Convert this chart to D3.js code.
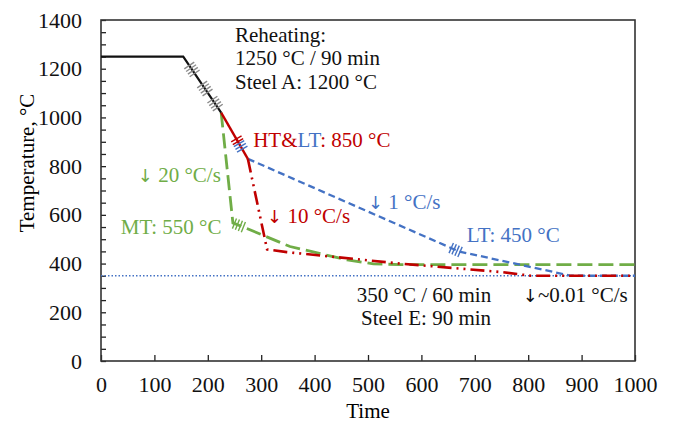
<!DOCTYPE html>
<html>
<head>
<meta charset="utf-8">
<script src="https://cdn.jsdelivr.net/npm/d3@7"></script>
<style>
  body { margin: 0; background: #fff; }
  text { font-family: "Liberation Serif", "Times New Roman", serif; }
</style>
</head>
<body>
<div id="chart"></div>
<script>

// temperature (°C) against time
var reheatPath = [[0, 1250], [154, 1250], [225, 1020]];
var htPath = [[225, 1020], [275, 830]];
var htCoolPath = [[275, 830], [311, 458], [348, 447], [560, 400], [750, 365], [805, 350], [1000, 350]];
var mtPath = [[225, 1020], [247, 567], [272, 545], [354, 470], [461, 415], [510, 399], [560, 396], [1000, 396]];
var ltPath = [[275, 830], [670, 450], [880, 350], [1000, 350]];
var holdTemp = 350;

var xTicks = [0, 100, 200, 300, 400, 500, 600, 700, 800, 900, 1000];
var yTicks = [0, 200, 400, 600, 800, 1000, 1200, 1400];

var RED = "#c00000", GREEN = "#70ad47", BLUE = "#4472c4";


TempVis = function (_parent) {
  this.parent = _parent;
  this.width = 675;
  this.height = 424;
  this.margin = { top: 20, right: 40, bottom: 63, left: 101 };

  this.initVis();
}

TempVis.prototype.initVis = function () {
  var that = this;

  this.svg = this.parent.append("svg")
      .attr("width", this.width)
      .attr("height", this.height)
      .style("background", "#fff");

  this.x = d3.scaleLinear().domain([0, 1000])
      .range([this.margin.left, this.width - this.margin.right]);
  this.y = d3.scaleLinear().domain([0, 1400])
      .range([this.height - this.margin.bottom, this.margin.top]);

  this.line = d3.line()
      .x(function (d) { return that.x(d[0]); })
      .y(function (d) { return that.y(d[1]); });

  this.drawAxes();
  this.updateVis();
  this.drawLabels();
}

TempVis.prototype.drawAxes = function () {
  var x = this.x, y = this.y;

  var xAxis = d3.axisBottom(x).tickValues(xTicks).tickSize(-6).tickPadding(15)
      .tickFormat(d3.format("d"));
  var yAxis = d3.axisLeft(y).tickValues(d3.range(0, 1401, 50)).tickSize(-5).tickPadding(19)
      .tickFormat(function (d) { return yTicks.indexOf(d) >= 0 ? d : ""; });

  var gx = this.svg.append("g")
      .attr("transform", "translate(0," + y(0) + ")")
      .call(xAxis);
  var gy = this.svg.append("g")
      .attr("transform", "translate(" + x(0) + ",0)")
      .call(yAxis);

  [gx, gy].forEach(function (g) {
    g.select(".domain").remove();
    g.selectAll(".tick line").attr("stroke", "#222").attr("stroke-width", 1.3);
    g.selectAll(".tick text")
      .attr("fill", "#111")
      .style("font-size", "22px")
      .style("font-family", "'Liberation Serif', serif");
  });

  // frame
  this.svg.append("rect")
      .attr("x", x(0)).attr("y", y(1400))
      .attr("width", x(1000) - x(0)).attr("height", y(0) - y(1400))
      .attr("fill", "none").attr("stroke", "#333").attr("stroke-width", 1.6);

  this.svg.append("text")
      .attr("x", (x(0) + x(1000)) / 2).attr("y", 418)
      .attr("text-anchor", "middle")
      .style("font-size", "21px")
      .text("Time");

  this.svg.append("text")
      .attr("transform", "translate(34,163) rotate(-90)")
      .attr("text-anchor", "middle")
      .style("font-size", "21px")
      .text("Temperature, °C");
}

TempVis.prototype.updateVis = function () {
  var that = this;
  var x = this.x, y = this.y;

  // holding line at 350 °C
  this.svg.append("line")
      .attr("x1", x(0)).attr("x2", x(1000))
      .attr("y1", y(holdTemp)).attr("y2", y(holdTemp))
      .attr("stroke", BLUE).attr("stroke-width", 1.4)
      .attr("stroke-dasharray", "1.5,2");

  var paths = [
    { data: mtPath, color: GREEN, w: 2.8, dash: "15,6" },
    { data: ltPath, color: BLUE, w: 2.3, dash: "7,4" },
    { data: htCoolPath, color: RED, w: 2.6, dash: "14,5,2,5,2,5" },
    { data: htPath, color: RED, w: 2.4, dash: null },
    { data: reheatPath, color: "#111", w: 2.2, dash: null }
  ];

  this.svg.append("g").selectAll("path")
      .data(paths)
      .enter()
      .append("path")
      .attr("d", function (d) { return that.line(d.data); })
      .attr("fill", "none")
      .attr("stroke", function (d) { return d.color; })
      .attr("stroke-width", function (d) { return d.w; })
      .attr("stroke-dasharray", function (d) { return d.dash; });

  // rolling pass marks
  var last = reheatPath.length - 1;
  [0.23, 0.57, 0.84].forEach(function (f) {
    that.hatch(reheatPath[last - 1], reheatPath[last], f, 4, "#8a8a8a", 12);
  });
  this.hatch(htPath[0], htPath[1], 0.6, 2, RED, 12);
  this.hatch(htPath[0], htPath[1], 0.73, 3, BLUE, 12);
  this.hatch(mtPath[1], mtPath[2], 0.45, 4, GREEN, 11);
  this.hatch(ltPath[0], ltPath[1], 0.985, 4, BLUE, 11);
}

// short strokes across a segment, at fraction f between points a and b
TempVis.prototype.hatch = function (a, b, f, n, color, len) {
  var x0 = this.x(a[0]), y0 = this.y(a[1]);
  var x1 = this.x(b[0]), y1 = this.y(b[1]);
  var dx = x1 - x0, dy = y1 - y0;
  var l = Math.sqrt(dx * dx + dy * dy);
  var ux = dx / l, uy = dy / l;
  var cx = x0 + dx * f, cy = y0 + dy * f;
  var gap = 3.2;

  var strokes = d3.range(n).map(function (i) {
    var o = (i - (n - 1) / 2) * gap;
    return [cx + ux * o, cy + uy * o];
  });

  this.svg.append("g").selectAll("line")
      .data(strokes)
      .enter()
      .append("line")
      .attr("x1", function (d) { return d[0] - uy * len / 2; })
      .attr("y1", function (d) { return d[1] + ux * len / 2; })
      .attr("x2", function (d) { return d[0] + uy * len / 2; })
      .attr("y2", function (d) { return d[1] - ux * len / 2; })
      .attr("stroke", color)
      .attr("stroke-width", 1.4);
}

TempVis.prototype.drawLabels = function () {
  var x = this.x, y = this.y;
  var svg = this.svg;

  function label(t, T, txt, color) {
    return svg.append("text")
        .attr("x", x(t)).attr("y", y(T))
        .attr("fill", color)
        .style("font-size", "21px")
        .text(txt);
  }

  // rate labels start with a down arrow, taken from DejaVu for a full-size glyph
  function rate(t, T, txt, color) {
    var el = label(t, T, "", color);
    el.append("tspan").style("font-family", "'DejaVu Sans', sans-serif")
      .style("font-size", "18px").text("↓");
    el.append("tspan").text(txt);
    return el;
  }

  label(251, 1310, "Reheating:", "#111");
  label(251, 1215, "1250 °C / 90 min", "#111");
  label(251, 1117, "Steel A: 1200 °C", "#111");

  var ht = label(285, 879, "", RED);
  ht.append("tspan").attr("fill", RED).text("HT&");
  ht.append("tspan").attr("fill", BLUE).text("LT");
  ht.append("tspan").attr("fill", RED).text(": 850 °C");

  rate(69, 735, " 20 °C/s", GREEN);
  label(37, 521, "MT: 550 °C", GREEN);
  rate(311, 567, " 10 °C/s", RED);
  rate(500, 624, " 1 °C/s", BLUE);
  label(685, 489, "LT: 450 °C", BLUE);

  label(479, 242, "350 °C / 60 min", "#111");
  label(487, 148, "Steel E: 90 min", "#111");
  rate(790, 242, "~0.01 °C/s", "#111");
}

var vis = new TempVis(d3.select("#chart"));

</script>
</body>
</html>
